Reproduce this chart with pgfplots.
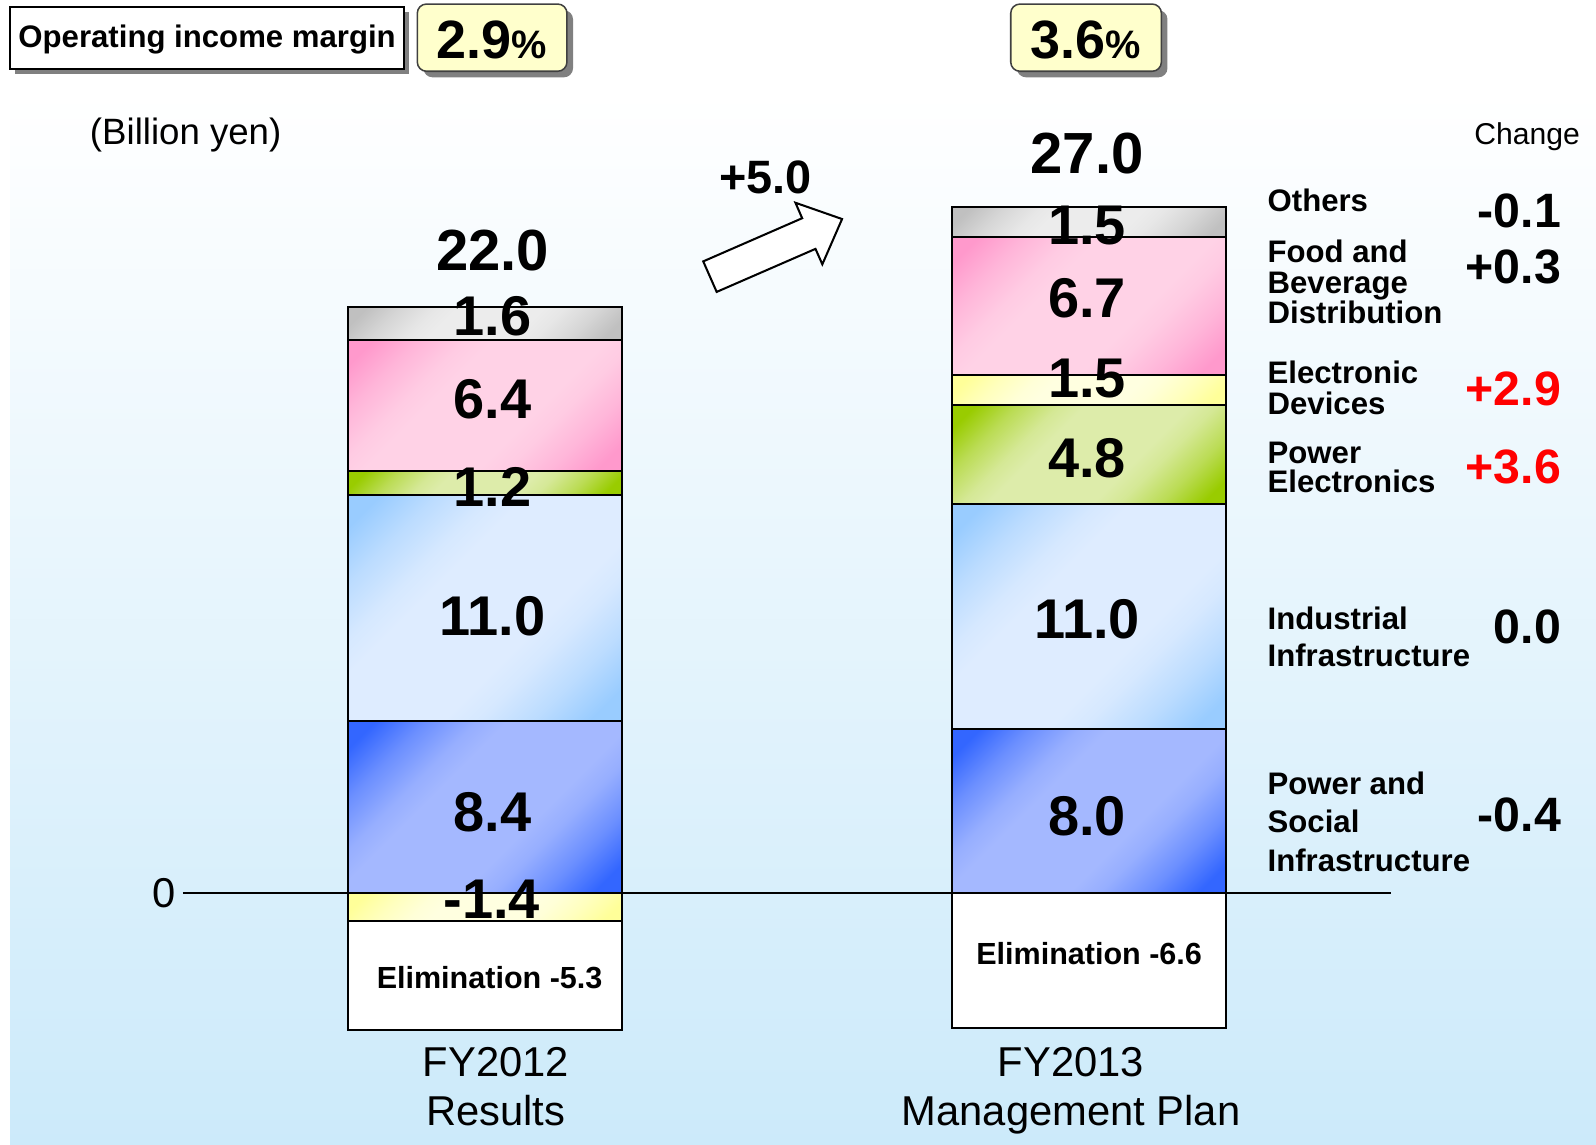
\documentclass[border=0pt]{standalone}
\usepackage{pgfplots}
\pgfplotsset{compat=1.18}
\usepackage{fontspec}
\setmainfont{Liberation Sans}

% each segment: colour at two corners, lighter colour along the diagonal
\definecolor{psOut}{RGB}{51,102,255}
\definecolor{psMid}{RGB}{164,184,255}
\definecolor{inOut}{RGB}{153,204,255}
\definecolor{inMid}{RGB}{222,236,255}
\definecolor{peOut}{RGB}{153,204,0}
\definecolor{peMid}{RGB}{221,236,170}
\definecolor{edOut}{RGB}{255,255,153}
\definecolor{edMid}{RGB}{255,255,224}
\definecolor{fbOut}{RGB}{255,153,204}
\definecolor{fbMid}{RGB}{255,210,230}
\definecolor{otOut}{RGB}{192,192,192}
\definecolor{otMid}{RGB}{236,236,236}
\definecolor{boxYellow}{RGB}{255,255,204}
\definecolor{shadowGray}{RGB}{128,128,128}
\definecolor{bgBottom}{RGB}{204,234,250}
\definecolor{upRed}{RGB}{255,0,0}

\colorlet{segout}{psOut}
\colorlet{segmid}{psMid}
\colorlet{segq}{segout!50!segmid}
\colorlet{segr}{segout!12!segmid}
\pgfdeclarehorizontalshading[segout,segmid,segq,segr]{segdiag}{100bp}{%
  color(0bp)=(segout); color(19bp)=(segout); color(27bp)=(segq);
  color(35bp)=(segr); color(40bp)=(segmid); color(60bp)=(segmid);
  color(65bp)=(segr); color(73bp)=(segq); color(81bp)=(segout);
  color(100bp)=(segout)}

\newcommand\fs[1]{\fontsize{#1}{#1}\selectfont}

\pgfplotsset{
  barframe/.style={ybar stacked, at={(0,0)}, anchor=origin, clip=false,
    x=296.75pt, y=10.06pt, xmin=-0.5, xmax=1.5, ymin=-6.6, ymax=35,
    bar width=134.75pt},
  seg/.style 2 args={draw=black, line width=1pt,
    /utils/exec={\colorlet{segout}{#1}\colorlet{segmid}{#2}%
      \colorlet{segq}{#1!50!#2}\colorlet{segr}{#1!12!#2}},
    shade, shading=segdiag, shading angle=-45},
}
% pixel grid of the reference (1568 x 1124), origin of the axes at (476.5,877)
\tikzset{px/.style={x=0.5pt, y=-0.5pt, shift={(-476.5,-877)}}}

\begin{document}
\begin{tikzpicture}
\begin{scope}[px]
  \path (0,0) rectangle (1568,1124);
  \shade[top color=white, bottom color=bgBottom] (10,92) rectangle (1568,1124);
\end{scope}

% FY2012 above zero, with zero line and category labels
\begin{axis}[barframe,
  axis line style={draw=none}, major tick length=0pt,
  ytick={0}, yticklabels={0}, ymajorgrids, grid style={black, line width=1pt},
  yticklabel style={font=\fs{20.5}, inner sep=0pt, xshift=-3.5pt},
  xtick={0.018,0.97},
  xticklabels={{FY2012\\Results},{FY2013\\Management Plan}},
  xticklabel style={font=\fontsize{20.5}{24}\selectfont, align=center,
    inner sep=0pt, yshift=-9.6pt},
]
\addplot[seg={psOut}{psMid}] coordinates {(0,8.4)};
\addplot[seg={inOut}{inMid}] coordinates {(0,11.0)};
\addplot[seg={peOut}{peMid}] coordinates {(0,1.2)};
\addplot[seg={fbOut}{fbMid}] coordinates {(0,6.4)};
\addplot[seg={otOut}{otMid}] coordinates {(0,1.6)};
\end{axis}

% FY2012 below zero
\begin{axis}[barframe, hide axis]
\addplot[seg={edOut}{edMid}] coordinates {(0,-1.4)};
\addplot[draw=black, line width=1pt, fill=white] coordinates {(0,-5.3)};
\end{axis}

% FY2013 above zero
\begin{axis}[barframe, hide axis]
\addplot[seg={psOut}{psMid}] coordinates {(1,8.0)};
\addplot[seg={inOut}{inMid}] coordinates {(1,11.0)};
\addplot[seg={peOut}{peMid}] coordinates {(1,4.8)};
\addplot[seg={edOut}{edMid}] coordinates {(1,1.5)};
\addplot[seg={fbOut}{fbMid}] coordinates {(1,6.7)};
\addplot[seg={otOut}{otMid}] coordinates {(1,1.5)};
\end{axis}

% FY2013 below zero
\begin{axis}[barframe, hide axis]
\addplot[draw=black, line width=1pt, fill=white] coordinates {(1,-6.6)};
\end{axis}

\begin{scope}[px]
  % operating income margin boxes
  \fill[shadowGray] (15,12) rectangle (402,73);
  \draw[fill=white, line width=0.75pt] (10,7) rectangle (397,68);
  \node[anchor=base, inner sep=0] at (203.5,47) {\fs{15.3}\bfseries Operating income margin};
  \fill[shadowGray, rounded corners=4.5pt] (416,10) rectangle (563,76);
  \draw[fill=boxYellow, draw=black!75, line width=0.75pt, rounded corners=4.5pt] (410,4) rectangle (557,70);
  \node[anchor=base, inner sep=0] at (483.5,57) {\bfseries\fs{26.5}2.9\fs{19.5}\%};
  \fill[shadowGray, rounded corners=4.5pt] (999,10) rectangle (1147,76);
  \draw[fill=boxYellow, draw=black!75, line width=0.75pt, rounded corners=4.5pt] (993,4) rectangle (1141,70);
  \node[anchor=base, inner sep=0] at (1067,57) {\bfseries\fs{26.5}3.6\fs{19.5}\%};

  \node[anchor=base west, inner sep=0] at (88,142) {\fs{18}(Billion yen)};
  \node[anchor=base west, inner sep=0] at (1448,142) {\fs{14.8}Change};

  % arrow and increase
  \draw[fill=white, line width=1pt, line join=miter]
    (690.9,256.8) -- (788.1,214.4) -- (781.5,199.2) -- (827.3,215.2)
    -- (807.9,259.7) -- (801.2,244.5) -- (704.1,286.8) -- cycle;
  \node[anchor=base, inner sep=0] at (752,190) {\fs{23}\bfseries +5.0};

  % totals and segment values
  \begin{scope}[every node/.style={anchor=base, inner sep=0, font=\fs{27.5}\bfseries}]
    \node[font=\fs{28.5}\bfseries] at (484,266) {22.0};
    \node at (484,330) {1.6};
    \node at (484,411) {6.4};
    \node at (484,498) {1.2};
    \node at (484,624) {11.0};
    \node at (484,817) {8.4};
    \node at (483,902) {-1.4};
    \node[font=\fs{28.5}\bfseries] at (1068,170) {27.0};
    \node at (1068,240) {1.5};
    \node at (1068,312) {6.7};
    \node at (1068,391) {1.5};
    \node at (1068,469) {4.8};
    \node at (1068,627) {11.0};
    \node at (1068,821) {8.0};
  \end{scope}
  \node[anchor=base, inner sep=0] at (481,971) {\fs{15}\bfseries Elimination -5.3};
  \node[anchor=base, inner sep=0] at (1070,948) {\fs{15}\bfseries Elimination -6.6};

  % segment names
  \begin{scope}[every node/.style={anchor=base west, inner sep=0, font=\fs{15.3}\bfseries}]
    \node at (1245,208) {Others};
    \node at (1245,258) {Food and};
    \node at (1245,288) {Beverage};
    \node at (1245,318) {Distribution};
    \node at (1245,377) {Electronic};
    \node at (1245,407) {Devices};
    \node at (1245,455) {Power};
    \node at (1245,484) {Electronics};
    \node at (1245,618) {Industrial};
    \node at (1245,655) {Infrastructure};
    \node at (1245,781) {Power and};
    \node at (1245,818) {Social};
    \node at (1245,856) {Infrastructure};
  \end{scope}

  % change column
  \begin{scope}[every node/.style={anchor=base east, inner sep=0, font=\fs{23.7}\bfseries}]
    \node at (1534,224) {-0.1};
    \node at (1534,279) {+0.3};
    \node[text=upRed] at (1534,398) {+2.9};
    \node[text=upRed] at (1534,475) {+3.6};
    \node at (1534,632) {0.0};
    \node at (1534,817) {-0.4};
  \end{scope}
\end{scope}
\end{tikzpicture}
\end{document}
